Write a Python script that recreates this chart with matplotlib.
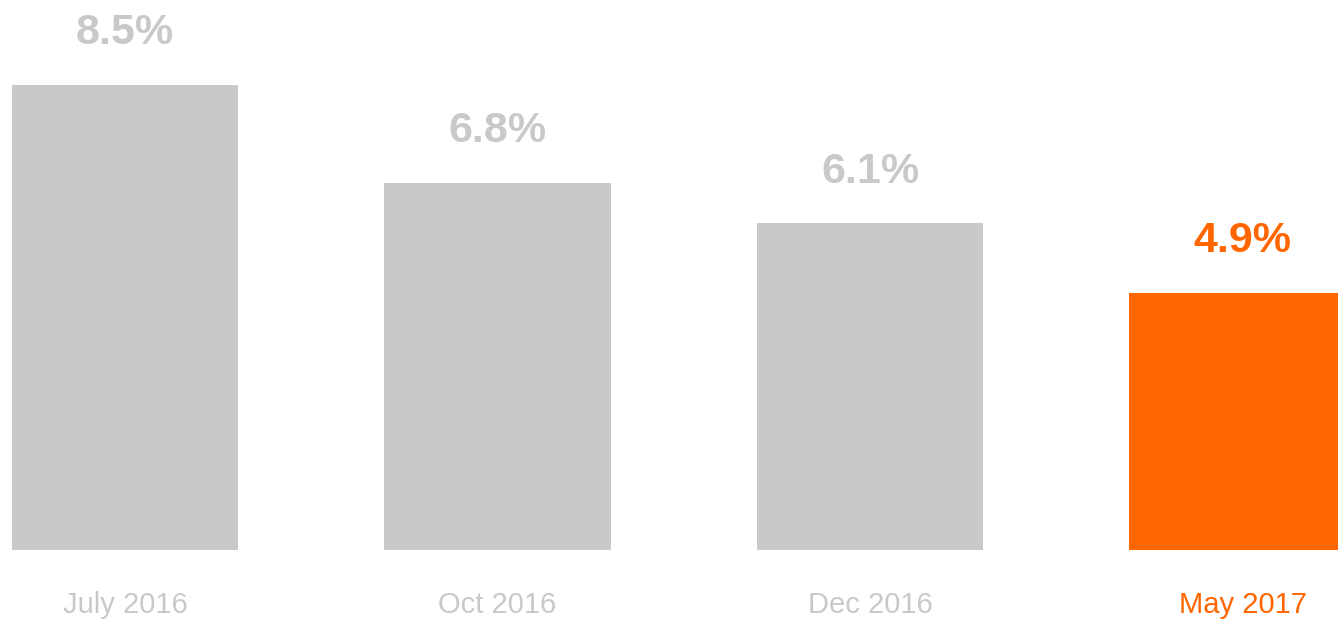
import matplotlib
matplotlib.use("Agg")
import matplotlib.pyplot as plt

categories = ["July 2016", "Oct 2016", "Dec 2016", "May 2017"]
values = [8.5, 6.8, 6.1, 4.9]
value_labels = ["8.5%", "6.8%", "6.1%", "4.9%"]

GRAY = "#c9c9c9"
ORANGE = "#ff6600"
colors = [GRAY, GRAY, GRAY, ORANGE]

plt.rcParams['font.family'] = ['Liberation Sans', 'DejaVu Sans']

fig = plt.figure(figsize=(13.38, 6.22), dpi=100)
ax = fig.add_axes([0, 72 / 622, 1, 550 / 622])

x = list(range(len(categories)))
bars = ax.bar(x, values, width=0.607, color=colors, zorder=2)

ax.set_xlim(-0.3356, -0.3356 + 1338 / 372.5)
ax.set_ylim(0.43, 9.98)

for xi, v, lab, c in zip(x, values, value_labels, colors):
    ax.annotate(lab, (xi, v), xytext=(0, 23), textcoords="offset points",
                ha="center", va="bottom", fontsize=31, fontweight="bold",
                color=c)
    ax.annotate(categories[xi], (xi, 0.43), xytext=(0, -39.5),
                textcoords="offset points", ha="center", va="center",
                fontsize=21, color=c)

ax.axis("off")
fig.savefig("out.png", dpi=100)
